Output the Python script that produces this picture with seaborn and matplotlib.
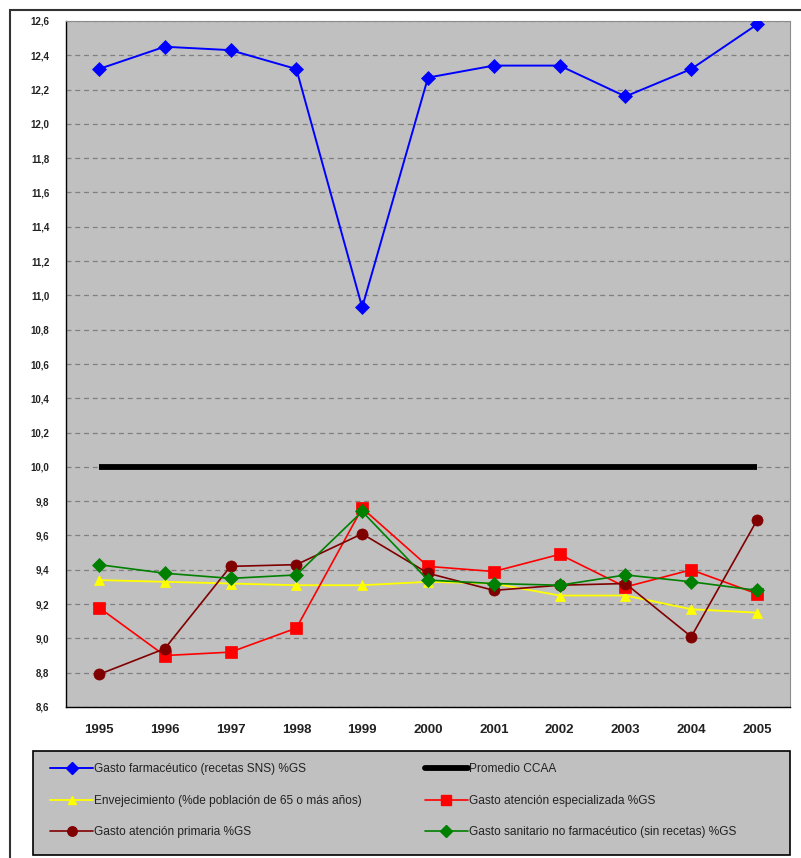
import matplotlib
matplotlib.use("Agg")
import matplotlib.pyplot as plt
import seaborn as sns
import pandas as pd
import numpy as np
from matplotlib.patches import Rectangle
from matplotlib.lines import Line2D

# ---- data -------------------------------------------------------------
years = [1995, 1996, 1997, 1998, 1999, 2000, 2001, 2002, 2003, 2004, 2005]

farmaceutico = [12.32, 12.45, 12.43, 12.32, 10.93, 12.27, 12.34, 12.34, 12.16, 12.32, 12.58]
promedio = [10.0, 10.0, 10.0, 10.0, 10.0, 10.0, 10.0, 10.0, 10.0, 10.0, 10.0]
envejecimiento = [9.34, 9.33, 9.32, 9.31, 9.31, 9.33, 9.32, 9.25, 9.25, 9.17, 9.15]
especializada = [9.18, 8.90, 8.92, 9.06, 9.76, 9.42, 9.39, 9.49, 9.30, 9.40, 9.26]
primaria = [8.79, 8.94, 9.42, 9.43, 9.61, 9.38, 9.28, 9.31, 9.32, 9.01, 9.69]
no_farmaceutico = [9.43, 9.38, 9.35, 9.37, 9.74, 9.34, 9.32, 9.31, 9.37, 9.33, 9.28]

labels = [
    "Gasto farmacéutico (recetas SNS) %GS",
    "Promedio CCAA",
    "Envejecimiento (%de población de 65 o más años)",
    "Gasto atención especializada %GS",
    "Gasto atención primaria %GS",
    "Gasto sanitario no farmacéutico (sin recetas) %GS",
]
series = [farmaceutico, promedio, envejecimiento, especializada, primaria, no_farmaceutico]

y_ticks = [8.6 + 0.2 * i for i in range(21)]
y_ticklabels = [f"{v:.1f}".replace(".", ",") for v in y_ticks]

# ---- styles -----------------------------------------------------------
styles = [
    dict(color="#0000FF", marker="D", markersize=7.5, linewidth=1.4),
    dict(color="#000000", marker=None, linewidth=4.2, solid_capstyle="butt"),
    dict(color="#FFFF00", marker="^", markersize=6.5, linewidth=1.3),
    dict(color="#FF0000", marker="s", markersize=8, linewidth=1.2),
    dict(color="#800000", marker="o", markersize=8, linewidth=1.2),
    dict(color="#008000", marker="D", markersize=7, linewidth=1.2),
]

sns.set_theme(style="white")
plt.rcParams["font.family"] = ["Liberation Sans", "DejaVu Sans"]

fig = plt.figure(figsize=(8.01, 8.58), dpi=100)
W, H = 801, 858
ax = fig.add_axes([66 / W, 1 - 707 / H, (790 - 66) / W, (707 - 21) / H])
ax.set_facecolor("#C0C0C0")

handles = []
for lab, vals, st in zip(labels, series, styles):
    df = pd.DataFrame({"year": years, "valor": vals})
    kw = dict(st)
    color = kw.pop("color")
    marker = kw.pop("marker")
    ms = kw.pop("markersize", 0)
    sns.lineplot(data=df, x="year", y="valor", ax=ax, color=color,
                 marker=marker, markersize=ms, markeredgecolor=color,
                 markeredgewidth=0.5, zorder=3, **kw)
    handles.append(Line2D([0], [0], color=color, marker=marker, markersize=ms * 0.85,
                          markeredgecolor=color,
                          linewidth=kw.get("linewidth", 1.2), label=lab))

ax.set_xlim(1994.5, 2005.5)
ax.set_ylim(8.6, 12.6)
ax.set_xlabel("")
ax.set_ylabel("")

ax.set_yticks(y_ticks)
ax.set_yticklabels(y_ticklabels, fontsize=7, fontweight="bold", color="#222222")
ax.set_xticks(years)
ax.set_xticklabels([str(y) for y in years], fontsize=9.5, fontweight="bold", color="#222222")
ax.set_xticks([y + 0.5 for y in years[:-1]] + [1994.5, 2005.5], minor=True)
ax.tick_params(axis="x", which="major", length=0, pad=12)
ax.tick_params(axis="x", which="minor", length=4, width=1, direction="out", color="black")
ax.tick_params(axis="y", which="major", length=4, width=1, direction="out", color="black", pad=8)

ax.grid(axis="y", color="#808080", linestyle=(0, (4, 3)), linewidth=0.9)
ax.grid(axis="x", visible=False)
ax.set_axisbelow(True)

for side in ["top", "right"]:
    ax.spines[side].set_color("#8C8C8C")
    ax.spines[side].set_linewidth(0.8)
for side in ["left", "bottom"]:
    ax.spines[side].set_color("black")
    ax.spines[side].set_linewidth(1.0)

# outer chart frame
fig.add_artist(Rectangle((10 / W, -0.2), 1.2, 1.2 - 10 / H, transform=fig.transFigure,
                         fill=False, edgecolor="#333333", linewidth=1.5, zorder=0))

# legend box
fig.add_artist(Rectangle((33 / W, 1 - 855 / H), (790 - 33) / W, (855 - 751) / H,
                         transform=fig.transFigure, facecolor="#C0C0C0",
                         edgecolor="black", linewidth=1.2, zorder=1))

col1 = [handles[0], handles[2], handles[4]]
col2 = [handles[1], handles[3], handles[5]]
leg_kw = dict(frameon=False, fontsize=8.6, handlelength=3.6, handletextpad=0.1,
              labelspacing=1.65, borderpad=0, borderaxespad=0, loc="upper left")
leg1 = fig.legend(handles=col1, bbox_to_anchor=(50 / W, 1 - 763 / H), **leg_kw)
leg2 = fig.legend(handles=col2, bbox_to_anchor=(425 / W, 1 - 763 / H), **leg_kw)
for lg in (leg1, leg2):
    lg.set_zorder(2)
    for t in lg.get_texts():
        t.set_color("#222222")

fig.savefig("out.png", dpi=100, facecolor="white")
